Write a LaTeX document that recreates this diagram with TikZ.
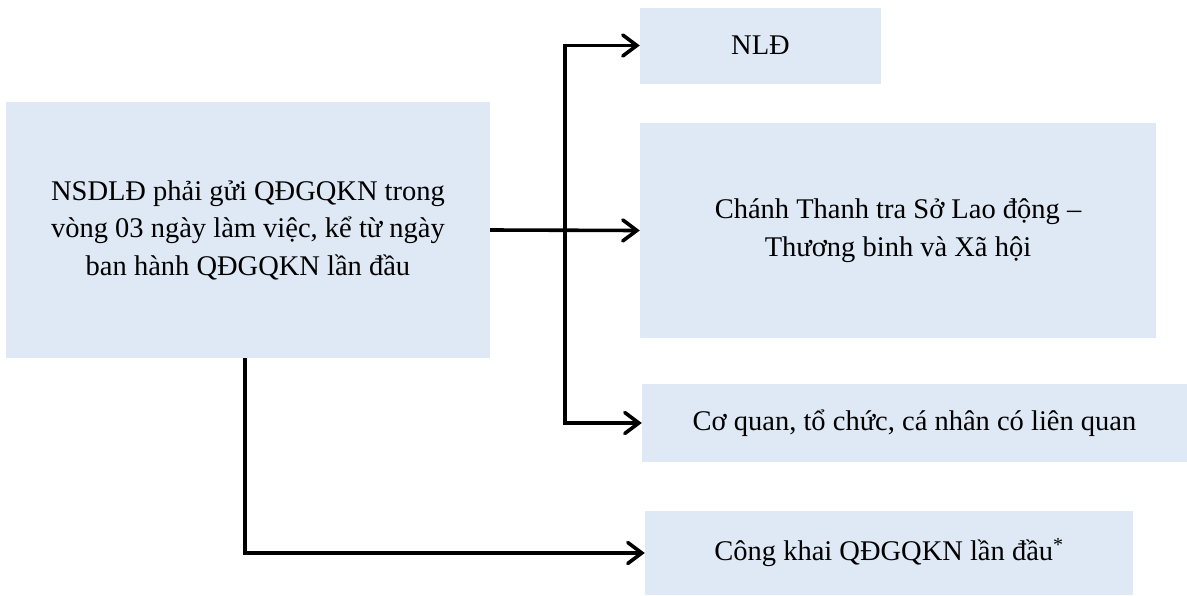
\documentclass[tikz,border=0pt]{standalone}
\usepackage{fontspec}
\setmainfont{Liberation Serif}
\usetikzlibrary{arrows.meta}
\definecolor{boxfill}{RGB}{222,233,245}
\begin{document}
\begin{tikzpicture}[x=1pt,y=-1pt,
  box/.style={rectangle, fill=boxfill, draw=none, inner sep=0pt, align=center,
    font=\fontsize{28.5}{37.5}\selectfont},
  link/.style={line width=3.6pt, line cap=rect},
  arr/.style={line width=3.6pt, -{Straight Barb[length=14pt,width=21pt,line cap=round]}}]
\useasboundingbox (0,0) rectangle (1187,595);
\node[box, minimum width=484pt, minimum height=256pt] (src) at (248,230)
  {NSDLĐ phải gửi QĐGQKN trong\\vòng 03 ngày làm việc, kể từ ngày\\ban hành QĐGQKN lần đầu};
\node[box, minimum width=241pt, minimum height=76pt] (nld) at (760.5,45.5) {NLĐ};
\node[box, minimum width=516pt, minimum height=215pt] (chanh) at (898,230.5)
  {Chánh Thanh tra Sở Lao động –\\Thương binh và Xã hội};
\node[box, minimum width=545pt, minimum height=78pt] (coquan) at (914.5,423) {Cơ quan, tổ chức, cá nhân có liên quan};
\node[box, minimum width=488pt, minimum height=84pt] (congkhai) at (889,553) {Công khai QĐGQKN lần đầu\textsuperscript{*}};
\coordinate (j) at (565,230);
\coordinate (b) at (245,358);
\draw[link] (j |- nld.west) -- (j |- coquan.west);
\draw[arr] (src.east) -- (chanh.west);
\draw[arr] (j |- nld.west) -- (nld.west);
\draw[arr] (j |- coquan.west) -- (coquan.west);
\draw[arr] (b) |- (congkhai.west);
\end{tikzpicture}
\end{document}
